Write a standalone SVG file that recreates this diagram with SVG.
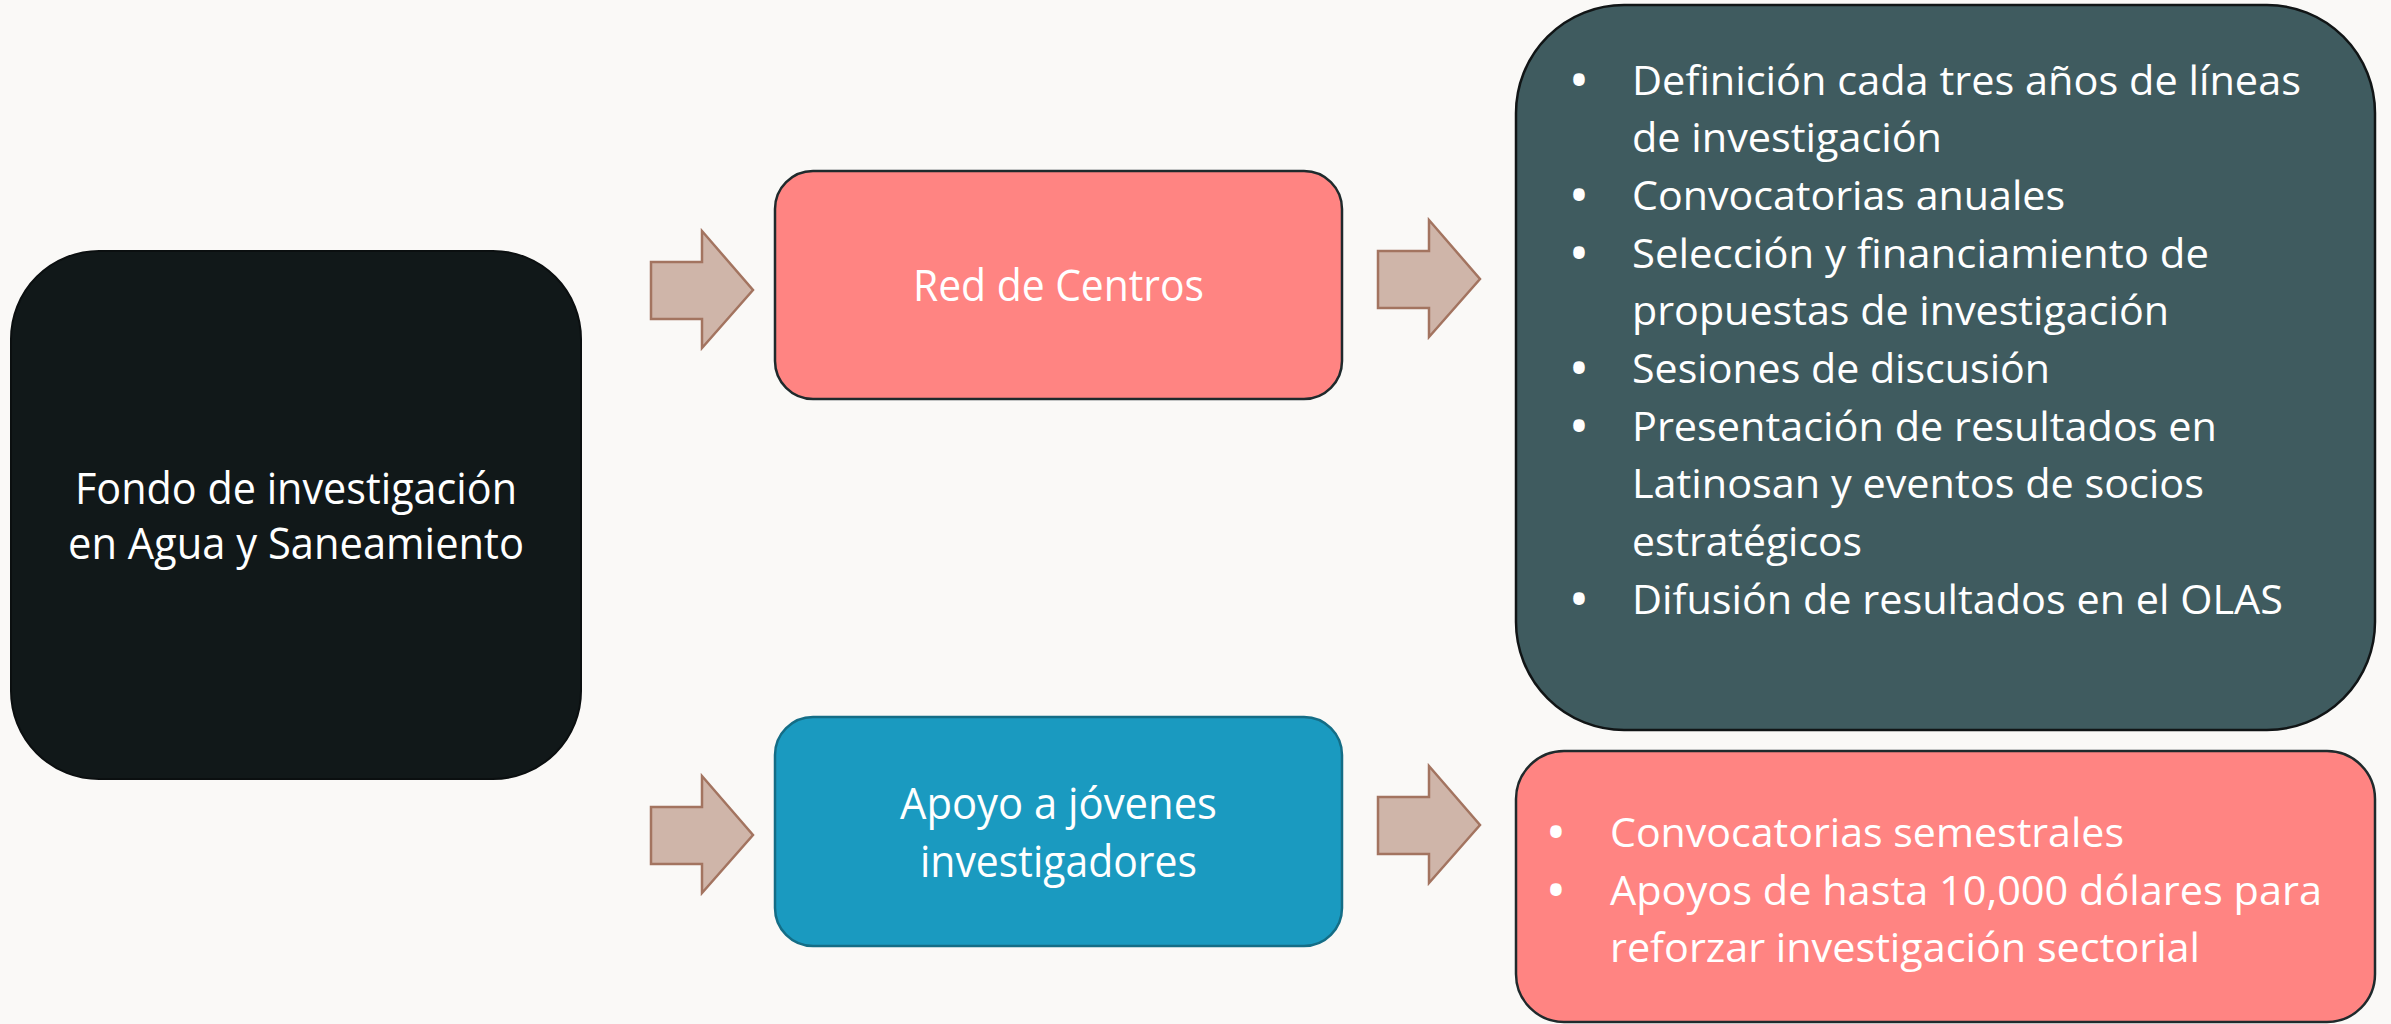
<svg xmlns="http://www.w3.org/2000/svg" width="2391" height="1024" viewBox="0 0 2391 1024">
<style>
.t{font-family:"Open Sans","Noto Sans","Liberation Sans",sans-serif;fill:#ffffff;}
.c{text-anchor:middle;font-size:43px;}
.b{font-size:41px;}
.d{font-size:41px;font-weight:bold;text-anchor:middle;}
.arrow{fill:#CFB5A9;stroke:#A37460;stroke-width:2.5;stroke-linejoin:miter;}
</style>
<defs>
<path id="arr" d="M0,0 H51 V-31 L102,28 L51,86 V57 H0 Z"/>
</defs>
<rect width="2391" height="1024" fill="#FAF9F7"/>
<g id="connectors">
<use href="#arr" class="arrow" x="651" y="262"/>
<use href="#arr" class="arrow" x="1378" y="251"/>
<use href="#arr" class="arrow" x="651" y="807"/>
<use href="#arr" class="arrow" x="1378" y="797"/>
</g>
<g id="fondo">
<rect x="11" y="251" width="570" height="528" rx="88" ry="88" fill="#111819" stroke="#0b0f10" stroke-width="2"/>
<text class="t c" x="296" y="504" textLength="442" lengthAdjust="spacingAndGlyphs">Fondo de investigación</text>
<text class="t c" x="296" y="559" textLength="456" lengthAdjust="spacingAndGlyphs">en Agua y Saneamiento</text>
</g>
<g id="red">
<rect x="775" y="171" width="567" height="228" rx="38" ry="38" fill="#FF8482" stroke="#1f2a2c" stroke-width="2.5"/>
<text class="t c" x="1058.5" y="301" textLength="291" lengthAdjust="spacingAndGlyphs">Red de Centros</text>
</g>
<g id="apoyo">
<rect x="775" y="717" width="567" height="229" rx="38" ry="38" fill="#1A9AC0" stroke="#146D86" stroke-width="2.5"/>
<text class="t c" x="1058.5" y="819" textLength="317" lengthAdjust="spacingAndGlyphs">Apoyo a jóvenes</text>
<text class="t c" x="1058.5" y="877" textLength="277" lengthAdjust="spacingAndGlyphs">investigadores</text>
</g>
<g id="red-detalle">
<rect x="1516" y="5" width="859" height="725" rx="108" ry="108" fill="#3F5B5F" stroke="#111516" stroke-width="2.5"/>
<text class="t d" x="1579" y="94.5">•</text>
<text class="t b" x="1632" y="94.5" textLength="669" lengthAdjust="spacingAndGlyphs">Definición cada tres años de líneas</text>
<text class="t b" x="1632" y="152.2" textLength="310" lengthAdjust="spacingAndGlyphs">de investigación</text>
<text class="t d" x="1579" y="209.9">•</text>
<text class="t b" x="1632" y="209.9" textLength="433" lengthAdjust="spacingAndGlyphs">Convocatorias anuales</text>
<text class="t d" x="1579" y="267.6">•</text>
<text class="t b" x="1632" y="267.6" textLength="577" lengthAdjust="spacingAndGlyphs">Selección y financiamiento de</text>
<text class="t b" x="1632" y="325.3" textLength="537" lengthAdjust="spacingAndGlyphs">propuestas de investigación</text>
<text class="t d" x="1579" y="383">•</text>
<text class="t b" x="1632" y="383" textLength="418" lengthAdjust="spacingAndGlyphs">Sesiones de discusión</text>
<text class="t d" x="1579" y="440.7">•</text>
<text class="t b" x="1632" y="440.7" textLength="585" lengthAdjust="spacingAndGlyphs">Presentación de resultados en</text>
<text class="t b" x="1632" y="498.4" textLength="572" lengthAdjust="spacingAndGlyphs">Latinosan y eventos de socios</text>
<text class="t b" x="1632" y="556.1" textLength="230" lengthAdjust="spacingAndGlyphs">estratégicos</text>
<text class="t d" x="1579" y="613.8">•</text>
<text class="t b" x="1632" y="613.8" textLength="651" lengthAdjust="spacingAndGlyphs">Difusión de resultados en el OLAS</text>
</g>
<g id="apoyo-detalle">
<rect x="1516" y="751" width="859" height="271" rx="48" ry="48" fill="#FF8482" stroke="#1f2a2c" stroke-width="2.5"/>
<text class="t d" x="1556" y="847">•</text>
<text class="t b" x="1610" y="847" textLength="514" lengthAdjust="spacingAndGlyphs">Convocatorias semestrales</text>
<text class="t d" x="1556" y="904.5">•</text>
<text class="t b" x="1610" y="904.5" textLength="712" lengthAdjust="spacingAndGlyphs">Apoyos de hasta 10,000 dólares para</text>
<text class="t b" x="1610" y="962" textLength="590" lengthAdjust="spacingAndGlyphs">reforzar investigación sectorial</text>
</g>
</svg>
